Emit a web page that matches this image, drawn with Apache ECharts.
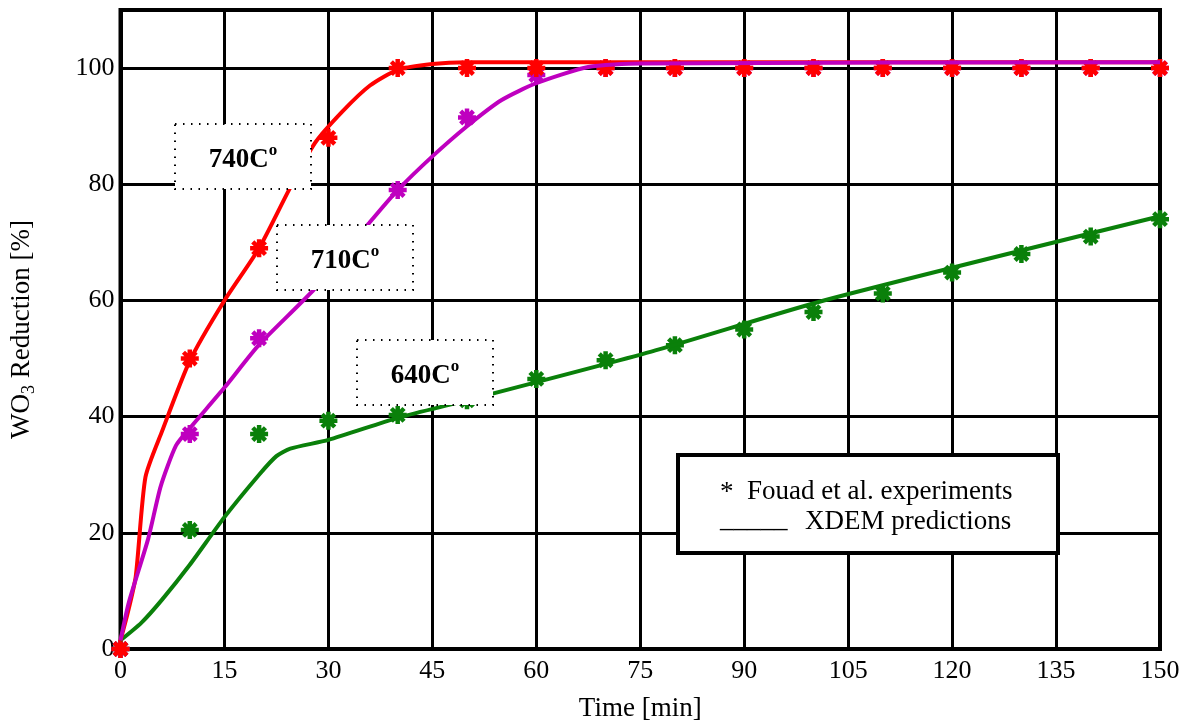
<!DOCTYPE html>
<html>
<head>
<meta charset="utf-8">
<script src="https://cdn.jsdelivr.net/npm/echarts@6/dist/echarts.min.js"></script>
<style>
html,body{margin:0;padding:0;background:#fff;}
#chart{width:1188px;height:727px;}
</style>
</head>
<body>
<div id="chart"></div>
<script>
// ---- data ----
const expTimes = [0, 10, 20, 30, 40, 50, 60, 70, 80, 90, 100, 110, 120, 130, 140, 150];
const exp740 = [0, 50, 69, 88, 100, 100, 100, 100, 100, 100, 100, 100, 100, 100, 100, 100];
const exp710 = [0, 37, 53.5, 66, 79, 91.5, 98.8, 100, 100, 100, 100, 100, 100, 100, 100, 100];
const exp640 = [0, 20.5, 37, 39.3, 40.3, 42.8, 46.5, 49.7, 52.3, 55, 58, 61.2, 64.8, 68, 71, 74];

const model740T = [0, 1, 2.2, 3.6, 6, 10, 15, 20, 24.3, 28, 32, 36, 40, 45, 50, 150];
const model740Y = [1.5, 6, 12.5, 29.6, 37.5, 49.6, 60, 69, 79, 87, 92.5, 97, 99.7, 100.7, 101, 101];
const model710T = [0, 1.2, 4, 5.8, 8, 10, 15, 20, 28, 36, 40, 45, 50, 55, 60, 67.5, 75, 150];
const model710Y = [1.5, 8, 19, 28, 35, 38, 45, 52.4, 62, 73.5, 79, 84.8, 90, 94.5, 97.4, 100.2, 100.8, 101];
const model640T = [0, 3, 6, 10, 15, 20, 22.5, 24.5, 30, 40, 48, 76.6, 101.5, 150];
const model640Y = [1.5, 4.5, 8.5, 14.5, 22.7, 30, 33.2, 34.5, 36, 39.8, 42.2, 51.2, 60, 74.5];

const xTicks = [0, 15, 30, 45, 60, 75, 90, 105, 120, 135, 150];
const yTicks = [0, 20, 40, 60, 80, 100];

const tempLabels = ['740C', '710C', '640C'];
const legendLines = ['Fouad et al. experiments', 'XDEM predictions'];

// ---- build ----
const FONT = '"Liberation Serif", "Times New Roman", serif';
const RED = '#ff0000', PURPLE = '#bf00bf', GREEN = '#0a800a';
const star = 'path://M-2.5,-10L2.5,-10L2.5,10L-2.5,10Z' +
  'M-10,-2.5L10,-2.5L10,2.5L-10,2.5Z' +
  'M-8.8,-5.3L-5.3,-8.8L8.8,5.3L5.3,8.8Z' +
  'M-5.3,8.8L-8.8,5.3L5.3,-8.8L8.8,-5.3Z';

function pairs(xs, ys) { return xs.map((x, i) => [x, ys[i]]); }

function lineSeries(name, xs, ys, color, z) {
  return {
    name, type: 'line', data: pairs(xs, ys), showSymbol: false, symbol: 'none',
    smooth: 0.22, z,
    lineStyle: { color, width: 4 }, animation: false
  };
}
function expSeries(name, ys, color, z) {
  return {
    name, type: 'scatter', data: pairs(expTimes, ys), symbol: star, symbolSize: 18, z,
    itemStyle: { color, opacity: 1 }, animation: false
  };
}

function tempBox(x, y, label) {
  return {
    type: 'group', x, y, z: 100,
    children: [
      { type: 'rect', shape: { x: 0, y: 0, width: 136, height: 65 }, z: 100,
        style: { fill: '#fff', stroke: '#000', lineWidth: 2, lineDash: [1.5, 6.5] } },
      { type: 'text', x: 68, y: 34, z: 101,
        style: { text: '{t|' + label + '}{s|o}', align: 'center', verticalAlign: 'middle',
          rich: {
            t: { fontFamily: FONT, fontWeight: 'bold', fontSize: 27, fill: '#000', lineHeight: 32, verticalAlign: 'bottom' },
            s: { fontFamily: FONT, fontWeight: 'bold', fontSize: 17, fill: '#000', lineHeight: 17, verticalAlign: 'top' }
          } } }
    ]
  };
}

const chart = echarts.init(document.getElementById('chart'), null, { renderer: 'canvas' });
chart.setOption({
  animation: false,
  backgroundColor: '#fff',
  grid: { left: 116, right: 28, top: 10, bottom: 74, show: true, borderColor: '#000', borderWidth: 4, backgroundColor: 'transparent' },
  xAxis: {
    type: 'value', min: 0, max: 150, interval: 15,
    name: 'Time [min]', nameLocation: 'middle', nameGap: 46,
    nameTextStyle: { fontFamily: FONT, fontSize: 27, color: '#000' },
    axisLine: { show: true, lineStyle: { color: '#000', width: 4 } },
    axisTick: { show: false },
    axisLabel: { fontFamily: FONT, fontSize: 26, color: '#000', margin: 9,
      formatter: v => xTicks.includes(v) ? String(v) : '' },
    splitLine: { show: true, lineStyle: { color: '#000', width: 3 } }
  },
  yAxis: {
    type: 'value', min: 0, max: 110, interval: 20,
    name: '{a|WO}{b|3}{a| Reduction [%]}', nameLocation: 'middle', nameGap: 82,
    nameTextStyle: {
      rich: {
        a: { fontFamily: FONT, fontSize: 27, color: '#000', lineHeight: 34, verticalAlign: 'middle' },
        b: { fontFamily: FONT, fontSize: 18, color: '#000', lineHeight: 18, verticalAlign: 'bottom' }
      }
    },
    axisLine: { show: true, lineStyle: { color: '#000', width: 4 } },
    axisTick: { show: false },
    axisLabel: { fontFamily: FONT, fontSize: 26, color: '#000', margin: 6,
      formatter: v => yTicks.includes(v) ? String(v) : '' },
    splitLine: { show: true, lineStyle: { color: '#000', width: 3 } }
  },
  series: [
    expSeries('640 exp', exp640, GREEN, 2),
    expSeries('710 exp', exp710, PURPLE, 2),
    expSeries('740 exp', exp740, RED, 2),
    lineSeries('640', model640T, model640Y, GREEN, 3),
    lineSeries('740', model740T, model740Y, RED, 3),
    lineSeries('710', model710T, model710Y, PURPLE, 3)
  ],
  graphic: [
    tempBox(175, 124, tempLabels[0]),
    tempBox(277, 225, tempLabels[1]),
    tempBox(357, 340, tempLabels[2]),
    {
      type: 'group', x: 678, y: 455, z: 100,
      children: [
        { type: 'rect', shape: { x: 0, y: 0, width: 380, height: 98 }, z: 100,
          style: { fill: '#fff', stroke: '#000', lineWidth: 4 } },
        { type: 'text', x: 42, y: 38, z: 101,
          style: { text: '*', fontFamily: FONT, fontSize: 27, fill: '#000', align: 'left', verticalAlign: 'middle' } },
        { type: 'text', x: 69, y: 37, z: 101,
          style: { text: legendLines[0], fontFamily: FONT, fontSize: 27, fill: '#000', align: 'left', verticalAlign: 'middle' } },
        { type: 'text', x: 42, y: 65, z: 101,
          style: { text: '_____', fontFamily: FONT, fontSize: 27, fill: '#000', align: 'left', verticalAlign: 'middle' } },
        { type: 'text', x: 127, y: 67, z: 101,
          style: { text: legendLines[1], fontFamily: FONT, fontSize: 27, fill: '#000', align: 'left', verticalAlign: 'middle' } }
      ]
    }
  ]
});
</script>
</body>
</html>
